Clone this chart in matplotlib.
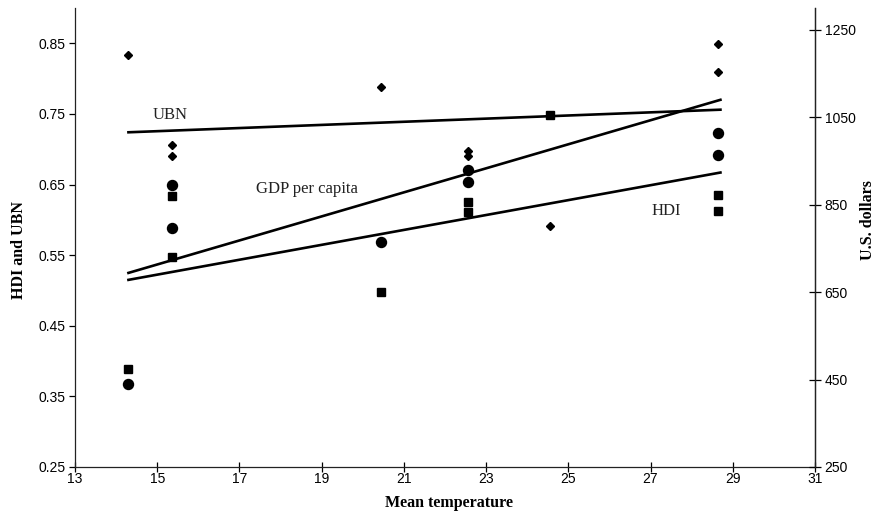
import matplotlib
matplotlib.use('Agg')
import matplotlib.pyplot as plt

# mean temperature of each country group, and the three indicators
temp_ubn = [14.3, 15.35, 15.35, 20.45, 22.55, 22.55, 24.55, 28.65, 28.65]
ubn      = [0.833, 0.706, 0.690, 0.788, 0.697, 0.691, 0.591, 0.849, 0.810]

temp_hdi = [14.3, 15.35, 15.35, 20.45, 22.55, 22.55, 28.65, 28.65]
hdi      = [0.367, 0.649, 0.588, 0.568, 0.670, 0.653, 0.723, 0.692]

temp_gdp = [14.3, 15.35, 15.35, 20.45, 22.55, 22.55, 24.55, 28.65, 28.65]
gdp      = [475, 871, 730, 650, 856, 834, 1056, 872, 835]   # U.S. dollars

# fitted trend lines (end points)
trend_x   = [14.3, 28.7]
ubn_trend = [0.724, 0.756]
hdi_trend = [0.515, 0.667]
gdp_trend = [694, 1090]

left_ticks  = [0.25, 0.35, 0.45, 0.55, 0.65, 0.75, 0.85]
right_ticks = [250, 450, 650, 850, 1050, 1250]
x_ticks     = [13, 15, 17, 19, 21, 23, 25, 27, 29, 31]

tick_font  = ['Liberation Sans Narrow', 'Liberation Sans', 'DejaVu Sans']
serif_font = ['Liberation Serif', 'DejaVu Serif']

fig = plt.figure(figsize=(8.8, 5.23), dpi=100)
ax = fig.add_axes([75/880, 56/523, 740/880, 459/523])
ax2 = ax.twinx()

ax.plot(temp_ubn, ubn, 'kD', markersize=4.2, linestyle='none')
ax.plot(temp_hdi, hdi, 'ko', markersize=7.2, linestyle='none')
ax2.plot(temp_gdp, gdp, 'ks', markersize=5.2, linestyle='none')

ax.plot(trend_x, ubn_trend, 'k-', lw=1.9)
ax.plot(trend_x, hdi_trend, 'k-', lw=1.9)
ax2.plot(trend_x, gdp_trend, 'k-', lw=1.9)

ax.text(15.31, 0.748, 'UBN', family=serif_font, fontsize=12, ha='center', va='center', color='#222222')
ax.text(18.64, 0.643, 'GDP per capita', family=serif_font, fontsize=12, ha='center', va='center', color='#222222')
ax.text(27.38, 0.612, 'HDI', family=serif_font, fontsize=12, ha='center', va='center', color='#222222')

ax.set_xlim(13, 31)
ax.set_ylim(0.25, 0.90)
ax2.set_ylim(250, 1300)
ax.set_xticks(x_ticks)
ax.set_yticks(left_ticks)
ax.set_yticklabels(['%.2f' % v for v in left_ticks])
ax2.set_yticks(right_ticks)

for a in (ax, ax2):
    a.spines['top'].set_visible(False)
    for s in a.spines.values():
        s.set_linewidth(0.9)
        s.set_color('#222222')
ax2.spines['left'].set_visible(False)
ax2.spines['bottom'].set_visible(False)

ax.tick_params(axis='y', direction='out', length=4, width=0.9, pad=3)
ax.tick_params(axis='x', direction='inout', length=7, width=0.9, pad=0)
ax2.tick_params(axis='y', direction='inout', length=8, width=0.9, pad=3)
for lab in ax.get_xticklabels() + ax.get_yticklabels() + ax2.get_yticklabels():
    lab.set_family(tick_font)
    lab.set_fontsize(10)

ax.set_xlabel('Mean temperature', family=serif_font, fontweight='bold', fontsize=11.5)
ax.set_ylabel('HDI and UBN', family=serif_font, fontweight='bold', fontsize=11.5, va='center')
ax2.set_ylabel('U.S. dollars', family=serif_font, fontweight='bold', fontsize=11.5,
               rotation=90, va='center')
ax.xaxis.set_label_coords(0.505, -0.061)
ax.yaxis.set_label_coords(-0.0757, 0.473)
ax2.yaxis.set_label_coords(1.0716, 0.538)

fig.savefig('out.png', dpi=100)
